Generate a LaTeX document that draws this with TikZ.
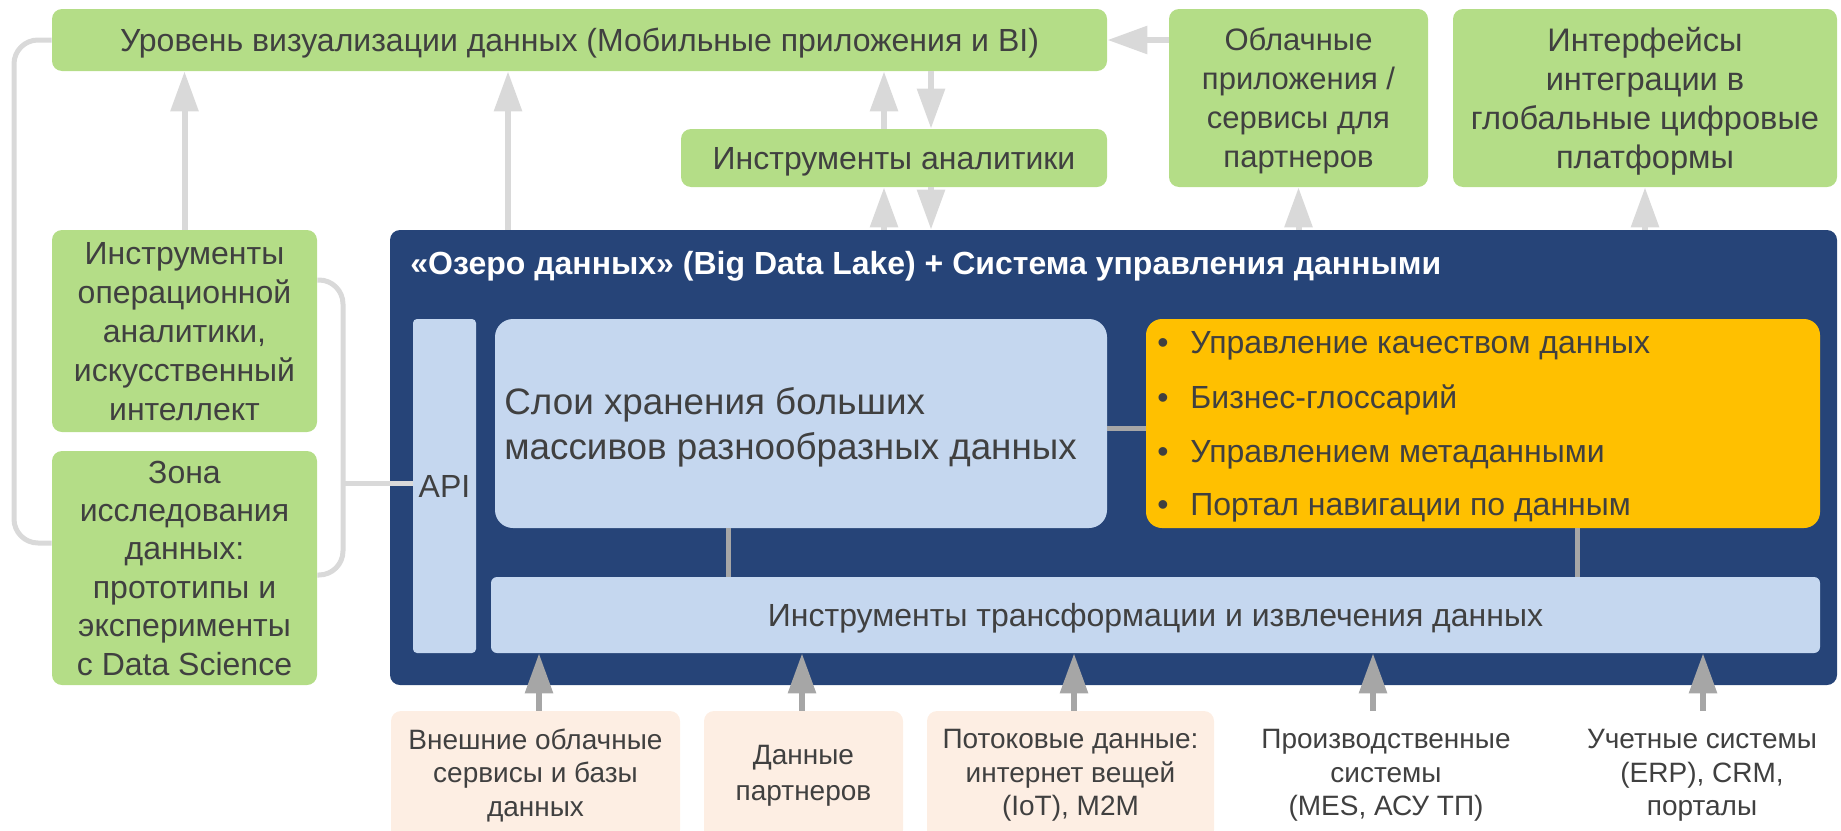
\documentclass[tikz,border=0pt]{standalone}
\usepackage{fontspec}
\setmainfont{Liberation Sans}
\usetikzlibrary{arrows.meta,calc}
\definecolor{gr}{HTML}{B4DD87}
\definecolor{lake}{HTML}{264478}
\definecolor{lb}{HTML}{C5D7EF}
\definecolor{yl}{HTML}{FFC000}
\definecolor{pe}{HTML}{FDEEE3}
\definecolor{txt}{HTML}{404040}
\definecolor{lg}{HTML}{D9D9D9}
\definecolor{dg}{HTML}{A6A6A6}
\newcommand\fsz[2]{\fontsize{#1}{#2}\selectfont}
\begin{document}
\begin{tikzpicture}[x=0.5pt,y=-0.5pt,
  gbox/.style={rectangle, rounded corners=5pt, fill=gr, inner sep=0pt, align=center, text=txt, text depth=0pt, font=\fsz{16}{19.5}},
  bbox/.style={rectangle, fill=lb, inner sep=0pt, align=center, text=txt, text depth=0pt, font=\fsz{16}{19}},
  pbox/.style={rectangle, rounded corners=5pt, fill=pe, inner sep=0pt, align=center, text=txt, font=\fsz{14}{16.8}},
  lbl/.style={rectangle, inner sep=0pt, align=center, text=txt, font=\fsz{14}{16.8}},
  ytxt/.style={anchor=base west, inner sep=0pt, text=txt, font=\fsz{16}{18}},
  stxt/.style={anchor=base west, inner sep=0pt, text=txt, font=\fsz{18.4}{22}},
  uparr/.style={draw=lg, line width=3pt, -{Triangle[width=13.5pt,length=20pt]}},
  dnarr/.style={draw=dg, line width=3pt, -{Triangle[width=13.5pt,length=20pt]}},
  lline/.style={draw=lg, line width=2.5pt, rounded corners=12pt},
  dline/.style={draw=dg, line width=2.5pt}
]
\useasboundingbox (0,0) rectangle (1841,830);
% top row
\node[gbox, minimum width=527.5pt, minimum height=31pt] (vis) at (579.5,40) {Уровень визуализации данных (Мобильные приложения и BI)};
\node[gbox, minimum width=129.5pt, minimum height=89pt, font=\fsz{15.5}{19.5}] (cloud) at (1298.5,98) {Облачные\\приложения /\\сервисы для\\партнеров};
\node[gbox, minimum width=192pt, minimum height=89pt, font=\fsz{16.3}{19.5}] (intf) at (1645,98) {Интерфейсы\\интеграции в\\глобальные цифровые\\платформы};
\node[gbox, minimum width=213pt, minimum height=29pt] (anal) at (894,158) {Инструменты аналитики};
% left
\node[gbox, minimum width=132.5pt, minimum height=101pt, font=\fsz{16}{19.5}] (op) at (184.5,331) {Инструменты\\операционной\\аналитики,\\искусственный\\интеллект};
\node[gbox, minimum width=132.5pt, minimum height=117pt, font=\fsz{16}{19.2}] (zona) at (184.5,568) {Зона\\исследования\\данных:\\прототипы и\\эксперименты\\с Data Science};
% lake
\node[rectangle, rounded corners=5pt, fill=lake, minimum width=723.5pt, minimum height=227.5pt, inner sep=0pt] (lake) at (1113.5,457.5) {};
\node[anchor=base west, inner sep=0pt, text=white, font=\fsz{16}{18}\bfseries] (title) at (410,274) {«Озеро данных» (Big Data Lake) + Система управления данными};
\node[bbox, rounded corners=2pt, minimum width=31.5pt, minimum height=167pt] (api) at (444.5,486) {API};
\node[rectangle, fill=lb, rounded corners=9pt, minimum width=306pt, minimum height=104.5pt, inner sep=0pt] (stor) at (801,423.5) {};
\node[stxt] (stor1) at (504,414) {Слои хранения больших};
\node[stxt] (stor2) at (504,459) {массивов разнообразных данных};
\node[rectangle, rounded corners=8pt, fill=yl, minimum width=337pt, minimum height=104.5pt, inner sep=0pt] (yel) at (1483,423.5) {};
\node[ytxt] (y1) at (1157,353) {\makebox[16.5pt][l]{•}Управление качеством данных};
\node[ytxt] (y2) at (1157,408) {\makebox[16.5pt][l]{•}Бизнес-глоссарий};
\node[ytxt] (y3) at (1157,462) {\makebox[16.5pt][l]{•}Управлением метаданными};
\node[ytxt] (y4) at (1157,515) {\makebox[16.5pt][l]{•}Портал навигации по данным};
\node[bbox, rounded corners=3pt, minimum width=664.5pt, minimum height=38pt] (trans) at (1155.5,615) {Инструменты трансформации и извлечения данных};
% sources
\node[pbox, minimum width=144.5pt, minimum height=64.5pt] (s1) at (535.5,775.5) {Внешние облачные\\сервисы и базы\\данных};
\node[pbox, minimum width=99.5pt, minimum height=64.5pt, font=\fsz{14}{18}] (s2) at (803.5,775.5) {Данные\\партнеров};
\node[pbox, minimum width=143.5pt, minimum height=64.5pt] (s3) at (1070.5,775.5) {Потоковые данные:\\интернет вещей\\(IoT), M2M};
\node[lbl, minimum width=120pt, minimum height=64.5pt] (s4) at (1386,775.5) {Производственные\\системы\\(MES, АСУ ТП)};
\node[lbl, minimum width=120pt, minimum height=64.5pt] (s5) at (1702,775.5) {Учетные системы\\(ERP), CRM,\\порталы};
% inner connectors
\draw[dline] (stor.east |- 0,428) -- (yel.west |- 0,428);
\draw[dline] (stor.south -| 728,0) -- (trans.north -| 728,0);
\draw[dline] (yel.south -| 1577,0) -- (trans.north -| 1577,0);
% left connectors
\draw[lline] (vis.west) -- (14,40) -- (14,543) -- (zona.west |- 0,543);
\draw[lline] (op.east |- 0,280) -- (343,280) -- (343,575) -- (zona.east |- 0,575);
\draw[draw=lg, line width=2.5pt] (343,483) -- (api.west |- 0,483);
% top arrows
\draw[uparr] (op.north) -- (vis.south -| op.north);
\draw[uparr] (lake.north -| 508,0) -- (vis.south -| 508,0);
\draw[uparr] (anal.north -| 884,0) -- (vis.south -| 884,0);
\draw[uparr] (vis.south -| 931,0) -- (anal.north -| 931,0);
\draw[uparr] (lake.north -| 884,0) -- (anal.south -| 884,0);
\draw[uparr] (anal.south -| 931,0) -- (lake.north -| 931,0);
\draw[uparr] (lake.north -| cloud.south) -- (cloud.south);
\draw[uparr] (lake.north -| intf.south) -- (intf.south);
\draw[uparr] (cloud.west |- vis.east) -- (vis.east);
% bottom arrows
\draw[dnarr] (s1.north -| 539,0) -- (trans.south -| 539,0);
\draw[dnarr] (s2.north -| 802,0) -- (trans.south -| 802,0);
\draw[dnarr] (s3.north -| 1074,0) -- (trans.south -| 1074,0);
\draw[dnarr] (s4.north -| 1373,0) -- (trans.south -| 1373,0);
\draw[dnarr] (s5.north -| 1703,0) -- (trans.south -| 1703,0);
\end{tikzpicture}
\end{document}
